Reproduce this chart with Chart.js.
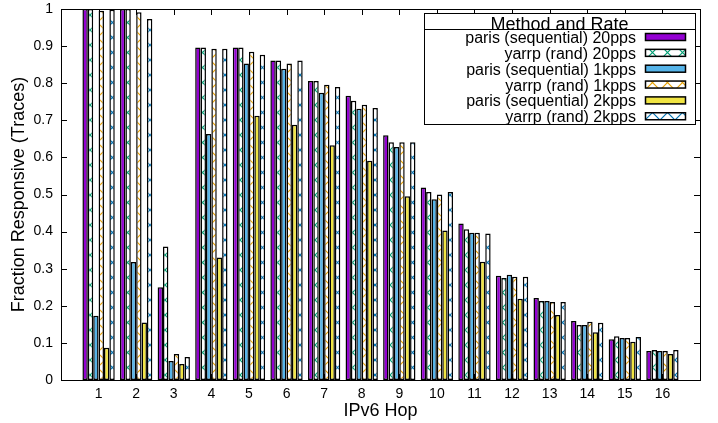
<!DOCTYPE html>
<html>
<head>
<meta charset="utf-8">
<script src="https://cdn.jsdelivr.net/npm/chart.js@4.4.0/dist/chart.umd.min.js"></script>
<style>
  html, body { margin: 0; padding: 0; background: #fff; }
  #wrap { width: 718px; height: 423px; }
</style>
</head>
<body>
<div id="wrap"><canvas id="c" width="718" height="423"></canvas></div>
<script>
// ---------- Data ----------
const hops = ["1", "2", "3", "4", "5", "6", "7", "8", "9", "10", "11", "12", "13", "14", "15", "16"];
const yTicks = [0, 0.1, 0.2, 0.3, 0.4, 0.5, 0.6, 0.7, 0.8, 0.9, 1];
const legendTitle = "Method and Rate";
const seriesLabels = [
  "paris (sequential) 20pps",
  "yarrp (rand) 20pps",
  "paris (sequential) 1kpps",
  "yarrp (rand) 1kpps",
  "paris (sequential) 2kpps",
  "yarrp (rand) 2kpps",
];
const paris20 = [1.0, 1.0, 0.25, 0.896, 0.896, 0.861, 0.806, 0.766, 0.66, 0.519, 0.422, 0.281, 0.221, 0.159, 0.110, 0.078];
const yarrp20 = [1.0, 1.0, 0.36, 0.896, 0.896, 0.861, 0.806, 0.753, 0.641, 0.507, 0.406, 0.275, 0.213, 0.148, 0.118, 0.081];
const paris1k = [0.173, 0.318, 0.051, 0.663, 0.853, 0.839, 0.774, 0.731, 0.628, 0.487, 0.397, 0.284, 0.213, 0.148, 0.113, 0.078];
const yarrp1k = [0.995, 0.991, 0.07, 0.893, 0.885, 0.853, 0.796, 0.742, 0.641, 0.50, 0.397, 0.278, 0.21, 0.157, 0.113, 0.078];
const paris2k = [0.087, 0.155, 0.043, 0.33, 0.712, 0.688, 0.633, 0.591, 0.495, 0.403, 0.319, 0.219, 0.175, 0.129, 0.103, 0.07];
const yarrp2k = [0.998, 0.973, 0.062, 0.893, 0.877, 0.861, 0.79, 0.733, 0.641, 0.507, 0.395, 0.278, 0.21, 0.154, 0.116, 0.081];

// ---------- Style ----------
const FONT = '"Liberation Sans", Arial, sans-serif';
const COLORS = ["#9400d3", "#009e73", "#56b4e9", "#e69f00", "#f0e442", "#0072b2"];
const HATCHED = [false, true, false, true, false, true];

function hatch(color) {
  const c = document.createElement("canvas");
  c.width = 15; c.height = 15;
  const g = c.getContext("2d");
  g.fillStyle = "#fff";
  g.fillRect(0, 0, 15, 15);
  g.strokeStyle = color;
  g.lineWidth = 1.2;
  g.beginPath();
  g.moveTo(-2, -2); g.lineTo(17, 17);
  g.moveTo(17, -2); g.lineTo(-2, 17);
  g.stroke();
  return g.createPattern(c, "repeat");
}

// pad the x range by one empty slot on each side (gnuplot xrange 0..17)
const xLabels = ["", ...hops, ""];
const pad = (arr) => [null, ...arr, null];

const datasets = [paris20, yarrp20, paris1k, yarrp1k, paris2k, yarrp2k].map((vals, i) => ({
  label: seriesLabels[i],
  data: pad(vals),
  backgroundColor: HATCHED[i] ? hatch(COLORS[i]) : COLORS[i],
  borderColor: "#000",
  borderWidth: 1.5,
  borderSkipped: false,
  categoryPercentage: 0.86,
  barPercentage: 1.0,
}));

// ---------- Plugins ----------
const frame = {
  id: "frame",
  afterDatasetsDraw(chart) {
    const { ctx, chartArea: a, scales: { x, y } } = chart;
    ctx.save();
    ctx.strokeStyle = "#000";
    ctx.lineWidth = 1;
    ctx.beginPath();
    for (let i = 1; i <= hops.length; i++) {
      const px = Math.round(x.getPixelForValue(i)) + 0.5;
      ctx.moveTo(px, a.bottom); ctx.lineTo(px, a.bottom - 6);
      ctx.moveTo(px, a.top); ctx.lineTo(px, a.top + 6);
    }
    yTicks.forEach((v) => {
      const py = Math.round(y.getPixelForValue(v)) + 0.5;
      ctx.moveTo(a.left, py); ctx.lineTo(a.left + 6, py);
      ctx.moveTo(a.right, py); ctx.lineTo(a.right - 6, py);
    });
    ctx.stroke();
    ctx.strokeRect(Math.round(a.left) + 0.5, Math.round(a.top) + 0.5,
      Math.round(a.right - a.left), Math.round(a.bottom - a.top));
    ctx.restore();
  },
};

const keyBox = {
  id: "keyBox",
  afterDraw(chart) {
    const ctx = chart.ctx;
    const L = 424, T = 13, R = 695, B = 124;
    ctx.save();
    ctx.fillStyle = "#fff";
    ctx.fillRect(L, T, R - L, B - T);
    ctx.strokeStyle = "#000";
    ctx.lineWidth = 1;
    ctx.strokeRect(L + 0.5, T + 0.5, R - L, B - T);
    ctx.beginPath();
    ctx.moveTo(L, 29.5); ctx.lineTo(R, 29.5);
    ctx.stroke();

    ctx.fillStyle = "#000";
    ctx.font = "18px " + FONT;
    ctx.textAlign = "center";
    ctx.textBaseline = "alphabetic";
    ctx.fillText(legendTitle, (L + R) / 2, 30);

    ctx.font = "16px " + FONT;
    ctx.textAlign = "right";
    chart.data.datasets.forEach((ds, i) => {
      const cy = 37 + i * 15.85;
      ctx.fillStyle = "#000";
      ctx.fillText(ds.label, 636, cy + 6);
      ctx.fillStyle = ds.backgroundColor;
      ctx.fillRect(645, cy - 3.5, 41, 7);
      ctx.lineWidth = 1.5;
      ctx.strokeRect(645.5, cy - 3.5, 40, 7);
    });
    ctx.restore();
  },
};

// ---------- Chart ----------
Chart.defaults.font.family = FONT;
Chart.defaults.color = "#000";

new Chart(document.getElementById("c"), {
  type: "bar",
  data: { labels: xLabels, datasets },
  options: {
    responsive: false,
    animation: false,
    layout: { padding: { left: 0, top: 9, right: 18, bottom: 0 } },
    plugins: { legend: { display: false }, tooltip: { enabled: false } },
    scales: {
      x: {
        offset: false,
        grid: { display: false, drawTicks: false },
        border: { display: false },
        ticks: { autoSkip: false, maxRotation: 0, padding: 6, font: { size: 14 } },
        title: { display: true, text: "IPv6 Hop", font: { size: 18 }, padding: { top: 0, bottom: 1 } },
        afterFit: (s) => { s.height = 43; s.paddingLeft = 0; s.paddingRight = 0; },
      },
      y: {
        min: 0,
        max: 1,
        grid: { display: false, drawTicks: false },
        border: { display: false },
        ticks: { stepSize: 0.1, padding: 8, font: { size: 14 }, callback: (v) => String(+v.toFixed(1)) },
        title: { display: true, text: "Fraction Responsive (Traces)", font: { size: 18 }, padding: { top: 8, bottom: 0 } },
        afterFit: (s) => { s.width = 61; s.paddingTop = 0; s.paddingBottom = 0; },
      },
    },
  },
  plugins: [frame, keyBox],
});
</script>
</body>
</html>
